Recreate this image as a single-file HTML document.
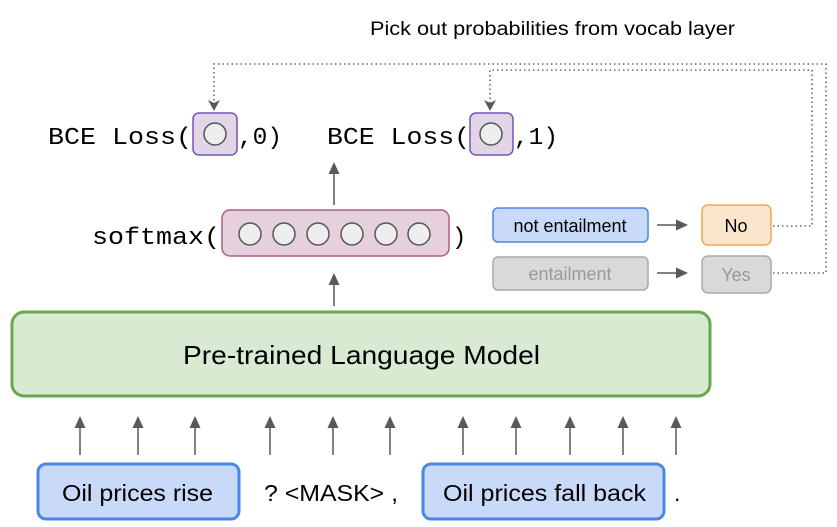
<!DOCTYPE html>
<html><head><meta charset="utf-8"><style>
body{margin:0;background:#fff;}
svg{display:block}
.s{font-family:"Liberation Sans",sans-serif;}
.m{font-family:"Liberation Mono",monospace;}
</style></head><body>
<svg width="837" height="527" viewBox="0 0 837 527" xmlns="http://www.w3.org/2000/svg">
<defs><marker id="a" markerWidth="12" markerHeight="12" refX="10" refY="6" orient="auto" markerUnits="userSpaceOnUse"><path d="M0,0.5 L12,6 L0,11.5 Z" fill="#595959"/></marker>
<marker id="d" markerWidth="12" markerHeight="12" refX="10" refY="6" orient="auto" markerUnits="userSpaceOnUse"><path d="M0,0 L11,6 L0,12 L3,6 Z" fill="#595959"/></marker></defs>
<text x="370" y="35" class="s" font-size="19" textLength="365" lengthAdjust="spacingAndGlyphs" fill="#000">Pick out probabilities from vocab layer</text>
<g fill="none" stroke="#666" stroke-width="1.6" stroke-dasharray="1.5,3">
<polyline points="773,273 826,273 826,64 214,64 214,110" marker-end="url(#d)"/>
<polyline points="773,226 812,226 812,70 490,70 490,110" marker-end="url(#d)"/>
</g>
<text x="48" y="144" class="m" font-size="24" textLength="144" lengthAdjust="spacingAndGlyphs" fill="#000">BCE Loss(</text>
<rect x="193" y="113" width="44" height="42" rx="6" fill="#e1d5e7" stroke="#7354b7" stroke-width="1.5"/>
<circle cx="215" cy="134" r="11" fill="#eee" stroke="#555" stroke-width="1.5"/>
<text x="238" y="144" class="m" font-size="24" textLength="44" lengthAdjust="spacingAndGlyphs">,0)</text>
<text x="327" y="144" class="m" font-size="24" textLength="143" lengthAdjust="spacingAndGlyphs">BCE Loss(</text>
<rect x="470" y="113" width="43" height="42" rx="6" fill="#e1d5e7" stroke="#7354b7" stroke-width="1.5"/>
<circle cx="491" cy="134" r="11" fill="#eee" stroke="#555" stroke-width="1.5"/>
<text x="514" y="144" class="m" font-size="24" textLength="44" lengthAdjust="spacingAndGlyphs">,1)</text>
<line x1="334" y1="205" x2="334" y2="164" stroke="#595959" stroke-width="1.5" marker-end="url(#a)"/>
<text x="92" y="244" class="m" font-size="24" textLength="128" lengthAdjust="spacingAndGlyphs">softmax(</text>
<rect x="222" y="210" width="227" height="46" rx="8" fill="#e6d0de" stroke="#b05a85" stroke-width="1.5"/>
<g fill="#eee" stroke="#555" stroke-width="1.5">
<circle cx="250" cy="234" r="11"/><circle cx="284" cy="234" r="11"/><circle cx="318" cy="234" r="11"/><circle cx="352" cy="234" r="11"/><circle cx="386" cy="234" r="11"/><circle cx="419" cy="234" r="11"/></g>
<text x="452" y="244" class="m" font-size="24">)</text>
<rect x="493" y="208" width="155" height="34" rx="5" fill="#c9daf8" stroke="#4a86e8" stroke-width="1.5"/>
<text x="570" y="232" class="s" font-size="18" text-anchor="middle">not entailment</text>
<rect x="493" y="257" width="155" height="33" rx="5" fill="#d9d9d9" stroke="#aaa" stroke-width="1.5"/>
<text x="570" y="280" class="s" font-size="18" text-anchor="middle" fill="#999">entailment</text>
<line x1="657" y1="225" x2="686" y2="225" stroke="#595959" stroke-width="1.5" marker-end="url(#a)"/>
<line x1="657" y1="273" x2="686" y2="273" stroke="#595959" stroke-width="1.5" marker-end="url(#a)"/>
<rect x="702" y="205" width="69" height="40" rx="6" fill="#fce5cd" stroke="#f6a54e" stroke-width="1.5"/>
<text x="736" y="232" class="s" font-size="18" text-anchor="middle">No</text>
<rect x="702" y="256" width="69" height="37" rx="6" fill="#d9d9d9" stroke="#aaa" stroke-width="1.5"/>
<text x="736" y="281" class="s" font-size="18" text-anchor="middle" fill="#999">Yes</text>
<line x1="334" y1="306" x2="334" y2="275" stroke="#595959" stroke-width="1.5" marker-end="url(#a)"/>
<rect x="12" y="312" width="698" height="84" rx="12" fill="#d9ead3" stroke="#6aa84f" stroke-width="3"/>
<text x="183" y="364" class="s" font-size="26" textLength="357" lengthAdjust="spacingAndGlyphs">Pre-trained Language Model</text>
<g stroke="#595959" stroke-width="1.5">
<line x1="80" y1="455" x2="80" y2="418" marker-end="url(#a)"/>
<line x1="138" y1="455" x2="138" y2="418" marker-end="url(#a)"/>
<line x1="195" y1="455" x2="195" y2="418" marker-end="url(#a)"/>
<line x1="270" y1="455" x2="270" y2="418" marker-end="url(#a)"/>
<line x1="333" y1="455" x2="333" y2="418" marker-end="url(#a)"/>
<line x1="390" y1="455" x2="390" y2="418" marker-end="url(#a)"/>
<line x1="463" y1="455" x2="463" y2="418" marker-end="url(#a)"/>
<line x1="516" y1="455" x2="516" y2="418" marker-end="url(#a)"/>
<line x1="570" y1="455" x2="570" y2="418" marker-end="url(#a)"/>
<line x1="623" y1="455" x2="623" y2="418" marker-end="url(#a)"/>
<line x1="676" y1="455" x2="676" y2="418" marker-end="url(#a)"/>
</g>
<rect x="38" y="464" width="201" height="55" rx="8" fill="#c9daf8" stroke="#4a86e8" stroke-width="3"/>
<text x="62" y="501" class="s" font-size="23" textLength="151" lengthAdjust="spacingAndGlyphs">Oil prices rise</text>
<text x="264" y="501" class="s" font-size="23" textLength="134" lengthAdjust="spacingAndGlyphs">? &lt;MASK&gt; ,</text>
<rect x="423" y="464" width="241" height="55" rx="8" fill="#c9daf8" stroke="#4a86e8" stroke-width="3"/>
<text x="443" y="501" class="s" font-size="23" textLength="203" lengthAdjust="spacingAndGlyphs">Oil prices fall back</text>
<text x="674" y="501" class="s" font-size="23">.</text>
</svg>
</body></html>
